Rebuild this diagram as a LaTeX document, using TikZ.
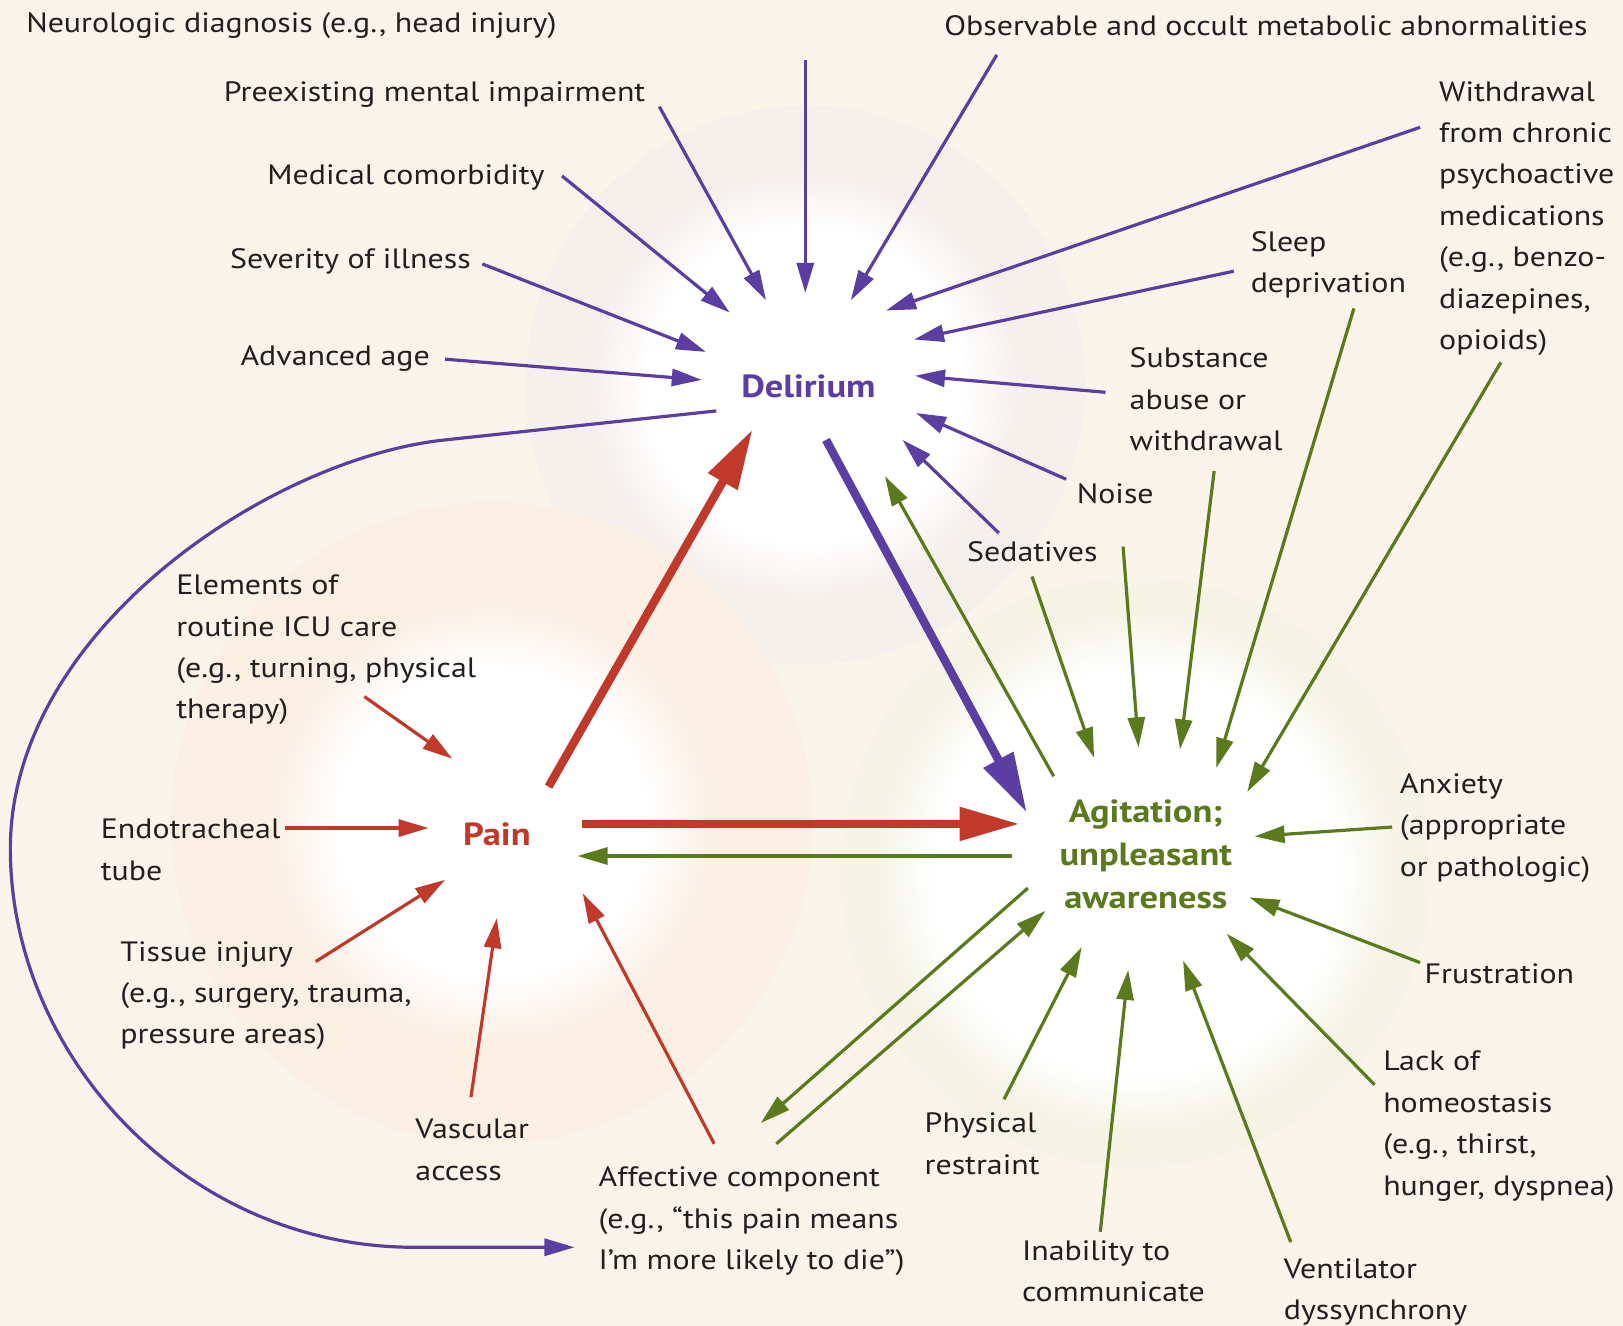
\documentclass[tikz,border=0pt]{standalone}
\usepackage{fontspec}
\setmainfont[FakeStretch=1.14]{PT Sans}
\usetikzlibrary{arrows.meta}
\definecolor{bg}{HTML}{FAF4EA}
\definecolor{purp}{HTML}{5C3EA3}
\definecolor{redc}{HTML}{C0392B}
\definecolor{grn}{HTML}{5B7A1E}
\definecolor{txt}{HTML}{231F20}
\definecolor{deldisc}{HTML}{F6F0EC}
\definecolor{paindisc}{HTML}{FCF0E5}
\definecolor{agidisc}{HTML}{F5F4E6}
\pgfdeclareradialshading{delsh}{\pgfpoint{0bp}{0bp}}{color(0bp)=(white); color(14bp)=(white); color(19bp)=(deldisc); color(43bp)=(deldisc); color(50bp)=(bg)}
\pgfdeclareradialshading{painsh}{\pgfpoint{0bp}{0bp}}{color(0bp)=(white); color(12bp)=(white); color(17bp)=(paindisc); color(43bp)=(paindisc); color(50bp)=(bg)}
\pgfdeclareradialshading{agish}{\pgfpoint{0bp}{0bp}}{color(0bp)=(white); color(17bp)=(white); color(22bp)=(agidisc); color(43bp)=(agidisc); color(50bp)=(bg)}
\newcommand\labfont{\fontsize{14}{20.7}\selectfont}
\newcommand\hubfont{\fontsize{16}{21.5}\selectfont\bfseries}
\begin{document}
\begin{tikzpicture}[x=0.51754pt,y=-0.51754pt,
  lab/.style={font=\labfont, text=txt, align=left, inner sep=0pt, anchor=west},
  hub/.style={font=\hubfont, align=center, inner sep=0pt},
  thinarr/.style={line width=1.6pt, -{Triangle[length=15pt,width=8.5pt]}},
  thickarr/.style={line width=4.2pt, -{Triangle[length=30pt,width=16pt]}},
  pa/.style={thinarr, draw=purp},
  ra/.style={thinarr, draw=redc},
  ga/.style={thinarr, draw=grn}]
\useasboundingbox (0,0) rectangle (1568,1281);
\fill[bg] (0,0) rectangle (1568,1281);
% background discs
\shade[shading=delsh] (778,372) circle (270);
\shade[shading=painsh] (475,795) circle (310);
\shade[shading=agish] (1097,843) circle (285);

% hubs
\node[hub, text=purp] (del) at (781,373) {Delirium};
\node[hub, text=grn] (agi) at (1107,825) {Agitation;\\unpleasant\\awareness};
\node[hub, text=redc] (pain) at (480,806) {Pain};

% labels
\node[lab] (neuro) at (25,25) {Neurologic diagnosis (e.g., head injury)};
\node[lab] (preex) at (216,91) {Preexisting mental impairment};
\node[lab] (medcom) at (258,171) {Medical comorbidity};
\node[lab] (sev) at (222,253) {Severity of illness};
\node[lab] (age) at (232,346) {Advanced age};
\node[lab] (obs) at (912,25) {Observable and occult metabolic abnormalities};
\node[lab] (withd) at (1390,211) {Withdrawal\\from chronic\\psychoactive\\medications\\(e.g., benzo-\\diazepines,\\opioids)};
\node[lab] (sleep) at (1208,256) {Sleep\\deprivation};
\node[lab] (subst) at (1091,386) {Substance\\abuse or\\withdrawal};
\node[lab] (noise) at (1040,477) {Noise};
\node[lab] (sedat) at (934,533) {Sedatives};
\node[lab] (elem) at (170,628) {Elements of\\routine ICU care\\(e.g., turning, physical\\therapy)};
\node[lab] (endo) at (97,821) {Endotracheal\\tube};
\node[lab] (tissue) at (116,962) {Tissue injury\\(e.g., surgery, trauma,\\pressure areas)};
\node[lab] (vasc) at (401,1111) {Vascular\\access};
\node[lab] (affect) at (578,1180) {Affective component\\(e.g., “this pain means\\I’m more likely to die”)};
\node[lab] (phys) at (893,1105) {Physical\\restraint};
\node[lab] (inab) at (987,1228) {Inability to\\communicate};
\node[lab] (vent) at (1240,1248) {Ventilator\\dyssynchrony};
\node[lab] (lack) at (1336,1088) {Lack of\\homeostasis\\(e.g., thirst,\\hunger, dyspnea)};
\node[lab] (frust) at (1376,941) {Frustration};
\node[lab] (anx) at (1352,800) {Anxiety\\(appropriate\\or pathologic)};

% connector end points
\path (637,103) coordinate (preexS) (740,290) coordinate (preexE)
      (778,58) coordinate (neuroS) (778,283) coordinate (neuroE)
      (963,53) coordinate (obsS) (822,290) coordinate (obsE)
      (543,170) coordinate (medS) (705,302) coordinate (medE)
      (466,255) coordinate (sevS) (682,340) coordinate (sevE)
      (430,347) coordinate (ageS) (678,367) coordinate (ageE)
      (1372,123) coordinate (wdS) (856,300) coordinate (wdE)
      (1192,262) coordinate (slS) (883,328) coordinate (slE)
      (1068,379) coordinate (suS) (884,363) coordinate (suE)
      (1030,463) coordinate (noS) (885,399) coordinate (noE)
      (965,515) coordinate (seS) (872,425) coordinate (seE)
      (798,425) coordinate (delOut) (992,785) coordinate (agiIn)
      (530,760) coordinate (painUp) (727,415) coordinate (delIn)
      (562,796) coordinate (painR) (985,796) coordinate (agiL)
      (352,673) coordinate (elS) (437,733) coordinate (elE)
      (275,800) coordinate (enS) (414,800) coordinate (enE)
      (305,929) coordinate (tiS) (430,850) coordinate (tiE)
      (455,1060) coordinate (vaS) (480,887) coordinate (vaE)
      (690,1105) coordinate (afS) (563,863) coordinate (afE)
      (978,827) coordinate (agiL2) (558,827) coordinate (painR2)
      (1018,750) coordinate (agiUp) (855,460) coordinate (delIn2)
      (997,557) coordinate (gseS) (1057,732) coordinate (gseE)
      (1085,528) coordinate (gnoS) (1100,722) coordinate (gnoE)
      (1173,455) coordinate (gsuS) (1140,724) coordinate (gsuE)
      (1308,298) coordinate (gslS) (1175,742) coordinate (gslE)
      (1450,350) coordinate (gwdS) (1205,765) coordinate (gwdE)
      (1345,799) coordinate (anS) (1212,808) coordinate (anE)
      (1372,930) coordinate (frS) (1207,867) coordinate (frE)
      (1328,1048) coordinate (laS) (1185,902) coordinate (laE)
      (1247,1200) coordinate (veS) (1143,928) coordinate (veE)
      (1063,1190) coordinate (inS) (1090,937) coordinate (inE)
      (970,1062) coordinate (phS) (1045,915) coordinate (phE)
      (993,858) coordinate (agiDL) (735,1085) coordinate (afIn)
      (750,1105) coordinate (afOut) (1010,880) coordinate (agiDL2)
      (692,397) coordinate (curveS) (555,1205) coordinate (curveE);

% purple
\draw[pa] (preexS) -- (preexE);
\draw[pa] (neuroS) -- (neuroE);
\draw[pa] (obsS) -- (obsE);
\draw[pa] (medS) -- (medE);
\draw[pa] (sevS) -- (sevE);
\draw[pa] (ageS) -- (ageE);
\draw[pa] (wdS) -- (wdE);
\draw[pa] (slS) -- (slE);
\draw[pa] (suS) -- (suE);
\draw[pa] (noS) -- (noE);
\draw[pa] (seS) -- (seE);
\draw[pa] (curveS) -- (430,425) .. controls (260,443) and (10,610) .. (10,820)
   .. controls (10,1020) and (180,1205) .. (400,1205) -- (curveE);
\draw[thickarr, draw=purp] (delOut) -- (agiIn);

% red
\draw[thickarr, draw=redc] (painUp) -- (delIn);
\draw[thickarr, draw=redc] (painR) -- (agiL);
\draw[ra] (elS) -- (elE);
\draw[ra] (enS) -- (enE);
\draw[ra] (tiS) -- (tiE);
\draw[ra] (vaS) -- (vaE);
\draw[ra] (afS) -- (afE);

% green
\draw[ga] (agiL2) -- (painR2);
\draw[ga] (agiUp) -- (delIn2);
\draw[ga] (gseS) -- (gseE);
\draw[ga] (gnoS) -- (gnoE);
\draw[ga] (gsuS) -- (gsuE);
\draw[ga] (gslS) -- (gslE);
\draw[ga] (gwdS) -- (gwdE);
\draw[ga] (anS) -- (anE);
\draw[ga] (frS) -- (frE);
\draw[ga] (laS) -- (laE);
\draw[ga] (veS) -- (veE);
\draw[ga] (inS) -- (inE);
\draw[ga] (phS) -- (phE);
\draw[ga] (agiDL) -- (afIn);
\draw[ga] (afOut) -- (agiDL2);
\end{tikzpicture}
\end{document}
